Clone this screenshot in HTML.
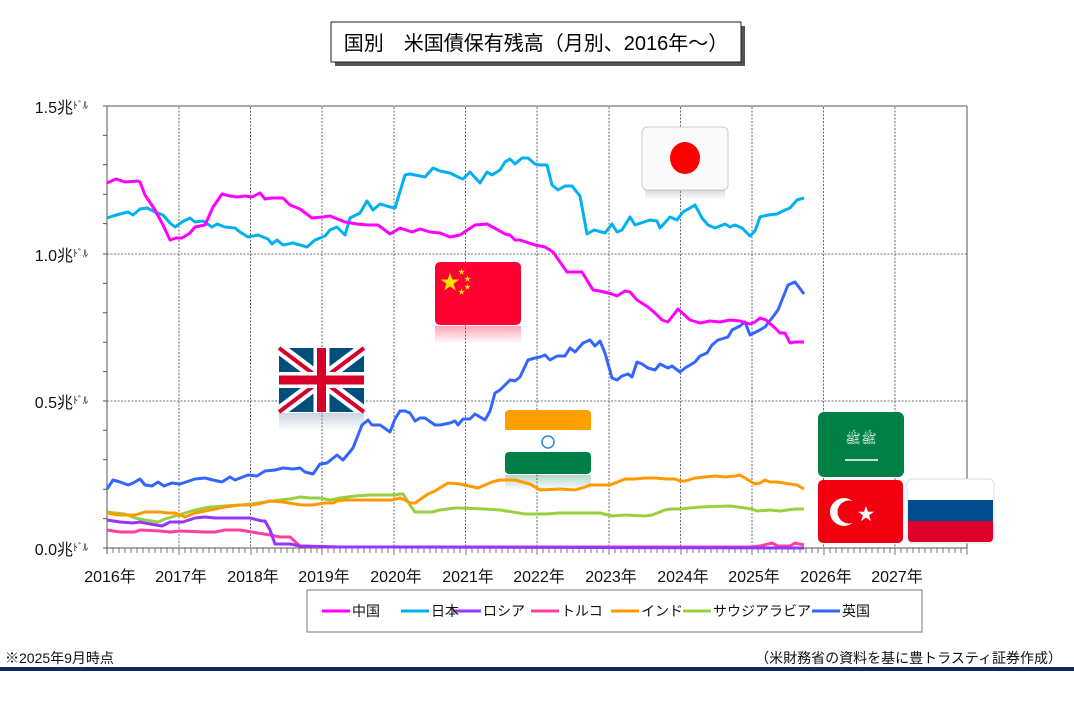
<!DOCTYPE html>
<html><head><meta charset="utf-8"><style>
body{margin:0;background:#fff;}
svg text{font-family:"Liberation Sans","Noto Sans CJK JP",sans-serif;}
</style></head><body>
<svg width="1074" height="707" viewBox="0 0 1074 707" xmlns="http://www.w3.org/2000/svg">
<defs>
<linearGradient id="fadeR" x1="0" y1="0" x2="0" y2="1"><stop offset="0" stop-color="#ff0033" stop-opacity="0.35"/><stop offset="1" stop-color="#ff0033" stop-opacity="0"/></linearGradient>
<linearGradient id="fadeB" x1="0" y1="0" x2="0" y2="1"><stop offset="0" stop-color="#6688aa" stop-opacity="0.35"/><stop offset="1" stop-color="#6688aa" stop-opacity="0"/></linearGradient>
<linearGradient id="fadeG" x1="0" y1="0" x2="0" y2="1"><stop offset="0" stop-color="#008048" stop-opacity="0.3"/><stop offset="1" stop-color="#008048" stop-opacity="0"/></linearGradient>
<linearGradient id="fadeK" x1="0" y1="0" x2="0" y2="1"><stop offset="0" stop-color="#999" stop-opacity="0.35"/><stop offset="1" stop-color="#999" stop-opacity="0"/></linearGradient>
</defs>
<!-- title -->
<rect x="335" y="26" width="410" height="40" fill="#555"/>
<rect x="331" y="22" width="410" height="40" fill="#fff" stroke="#222" stroke-width="1"/>
<text x="536" y="50" font-size="20" text-anchor="middle" fill="#000">国別　米国債保有残高（月別、2016年～）</text>
<!-- grid -->
<g stroke="#444" stroke-width="0.8" stroke-dasharray="2,1.5">
<line x1="107" y1="254" x2="967" y2="254"/><line x1="107" y1="401" x2="967" y2="401"/>
<line x1="179" y1="107" x2="179" y2="548"/><line x1="250.5" y1="107" x2="250.5" y2="548"/><line x1="322" y1="107" x2="322" y2="548"/><line x1="394" y1="107" x2="394" y2="548"/><line x1="465.5" y1="107" x2="465.5" y2="548"/><line x1="537" y1="107" x2="537" y2="548"/><line x1="609" y1="107" x2="609" y2="548"/><line x1="680.5" y1="107" x2="680.5" y2="548"/><line x1="752" y1="107" x2="752" y2="548"/><line x1="823.5" y1="107" x2="823.5" y2="548"/><line x1="895" y1="107" x2="895" y2="548"/>
</g>
<g stroke="#555" stroke-width="1" fill="none">
<line x1="107" y1="106" x2="967" y2="106"/><line x1="967" y1="106" x2="967" y2="548"/>
<line x1="107" y1="106" x2="107" y2="554"/><line x1="107" y1="548" x2="967" y2="548"/>
<path d="M103 135.4h4M103 164.8h4M103 194.2h4M103 223.6h4M103 283.4h4M103 312.8h4M103 342.2h4M103 371.6h4M103 430.4h4M103 459.8h4M103 489.2h4M103 518.6h4M103 106h4M103 254h4M103 401h4M103 548h4"/>
</g>
<path stroke="#555" stroke-width="0.8" d="M113 548v5M119 548v5M125 548v5M131 548v5M137 548v5M143 548v5M149 548v5M155 548v5M161 548v5M167 548v5M173 548v5M179 548v7M185 548v5M191 548v5M197 548v5M203 548v5M209 548v5M215 548v5M221 548v5M227 548v5M233 548v5M239 548v5M245 548v5M251 548v7M257 548v5M263 548v5M269 548v5M275 548v5M281 548v5M287 548v5M293 548v5M299 548v5M305 548v5M311 548v5M317 548v5M322 548v7M328 548v5M334 548v5M340 548v5M346 548v5M352 548v5M358 548v5M364 548v5M370 548v5M376 548v5M382 548v5M388 548v5M394 548v7M400 548v5M406 548v5M412 548v5M418 548v5M424 548v5M430 548v5M436 548v5M442 548v5M448 548v5M454 548v5M460 548v5M466 548v7M472 548v5M478 548v5M484 548v5M490 548v5M496 548v5M502 548v5M508 548v5M514 548v5M520 548v5M526 548v5M532 548v5M537 548v7M543 548v5M549 548v5M555 548v5M561 548v5M567 548v5M573 548v5M579 548v5M585 548v5M591 548v5M597 548v5M603 548v5M609 548v7M615 548v5M621 548v5M627 548v5M633 548v5M639 548v5M645 548v5M651 548v5M657 548v5M663 548v5M669 548v5M675 548v5M681 548v7M687 548v5M693 548v5M699 548v5M705 548v5M711 548v5M717 548v5M723 548v5M729 548v5M735 548v5M741 548v5M747 548v5M752 548v7M758 548v5M764 548v5M770 548v5M776 548v5M782 548v5M788 548v5M794 548v5M800 548v5M806 548v5M812 548v5M818 548v5M824 548v7M830 548v5M836 548v5M842 548v5M848 548v5M854 548v5M860 548v5M866 548v5M872 548v5M878 548v5M884 548v5M890 548v5M895 548v7M901 548v5M907 548v5M913 548v5M919 548v5M925 548v5M931 548v5M937 548v5M943 548v5M949 548v5M955 548v5M961 548v5M967 548v7"/>
<!-- y labels -->
<g font-size="16" fill="#111" text-anchor="end">
<text x="88" y="113">1.5兆<tspan font-size="10" dy="-4">ﾄﾞﾙ</tspan></text>
<text x="88" y="261">1.0兆<tspan font-size="10" dy="-4">ﾄﾞﾙ</tspan></text>
<text x="88" y="408">0.5兆<tspan font-size="10" dy="-4">ﾄﾞﾙ</tspan></text>
<text x="88" y="555">0.0兆<tspan font-size="10" dy="-4">ﾄﾞﾙ</tspan></text>
</g>
<g font-size="16" fill="#111" text-anchor="middle">
<text x="110" y="582">2016年</text><text x="181" y="582">2017年</text><text x="253" y="582">2018年</text><text x="324" y="582">2019年</text><text x="396" y="582">2020年</text><text x="468" y="582">2021年</text><text x="539" y="582">2022年</text><text x="611" y="582">2023年</text><text x="683" y="582">2024年</text><text x="754" y="582">2025年</text><text x="826" y="582">2026年</text><text x="897" y="582">2027年</text>
</g>
<!-- flags -->
<g>
<rect x="642" y="127" width="86" height="63" rx="5" fill="#fafafa" stroke="#ccc"/>
<rect x="645" y="190" width="80" height="10" fill="url(#fadeK)"/>
<ellipse cx="685" cy="158" rx="15" ry="16" fill="#f00"/>
<rect x="435" y="262" width="86" height="63" rx="5" fill="#ff0033"/>
<rect x="435" y="326" width="86" height="18" fill="url(#fadeR)"/>
<text x="440" y="289" font-size="20" fill="#ffe000">★</text>
<text x="458" y="274" font-size="7" fill="#ffe000">★</text><text x="464" y="281" font-size="7" fill="#ffe000">★</text><text x="464" y="289" font-size="7" fill="#ffe000">★</text><text x="458" y="294" font-size="7" fill="#ffe000">★</text>
<rect x="279" y="348" width="85" height="64" fill="#004e7c"/>
<path d="M279 348L364 412M364 348L279 412" stroke="#fff" stroke-width="12"/>
<path d="M279 348L364 412M364 348L279 412" stroke="#d6002a" stroke-width="4"/>
<path d="M321.5 348V412M279 380H364" stroke="#fff" stroke-width="16"/>
<path d="M321.5 348V412M279 380H364" stroke="#d6002a" stroke-width="9"/>
<rect x="279" y="413" width="85" height="18" fill="url(#fadeB)"/>
<rect x="505" y="410" width="86" height="22" rx="4" fill="#ffa000"/>
<rect x="505" y="430" width="86" height="22" fill="#fff"/>
<rect x="505" y="452" width="86" height="22" rx="4" fill="#008048"/>
<rect x="505" y="475" width="86" height="16" fill="url(#fadeG)"/>
<circle cx="548" cy="442" r="6" fill="none" stroke="#3388cc" stroke-width="1.5"/>
<rect x="818" y="412" width="86" height="65" rx="6" fill="#008044"/>
<text x="861" y="443" font-size="13" fill="#fff" text-anchor="middle">ﷺﷺ</text>
<path d="M845 460H878" stroke="#fff" stroke-width="1.5"/>
<rect x="818" y="480" width="85" height="63" rx="5" fill="#f20010"/>
<circle cx="844" cy="512" r="14" fill="#fff"/><circle cx="849" cy="512" r="11.5" fill="#f20010"/>
<text x="866" y="520" font-size="17" fill="#fff" text-anchor="middle">★</text>
<rect x="907" y="479" width="87" height="64" rx="5" fill="#fff" stroke="#ddd"/>
<rect x="908" y="500" width="85" height="21" fill="#004c8c"/>
<path d="M908 521h85v17a4 4 0 0 1-4 4h-77a4 4 0 0 1-4-4z" fill="#dc002a"/>
</g>
<!-- series -->
<g fill="none" stroke-width="3" stroke-linejoin="round">
<polyline stroke="#ff40a0" points="107,530 120,532 135,532 140,530 160,531 170,532 180,531 205,532 215,532 225,530 240,530 252,532 270,535 280,537 290,537 300,546 330,547 750,547 760,546 772,543 778,546 790,546 795,543 804,545"/>
<polyline stroke="#9933ff" points="107,520 120,522 133,523 140,522 150,524 162,526 170,522 183,522 195,518 205,517 215,518 250,518 262,521 265,521 270,530 275,544 290,544 300,546 340,547 390,547 804,548"/>
<polyline stroke="#99d040" points="107,512 115,513 125,514 135,518 145,520 158,522 165,519 175,516 185,513 195,510 210,507 225,506 240,505 252,504 265,502 280,500 290,499 300,497 310,498 320,498 330,500 340,498 355,496 370,495 385,495 395,495 400,494 403,494 410,505 415,512 432,512 440,510 455,508 460,508 485,509 500,510 525,514 545,514 560,513 575,513 600,513 612,516 625,515 645,516 652,515 665,510 670,509 680,509 700,507 730,506 745,508 752,509 757,511 770,510 780,511 795,509 804,509"/>
<polyline stroke="#ff9900" points="107,513 118,515 128,515 135,515 145,512 160,512 168,513 175,513 185,517 195,513 210,510 225,507 240,505 252,505 262,503 270,501 283,502 295,504 302,505 312,505 325,503 333,503 337,501 345,500 355,500 365,500 375,500 385,500 392,500 400,498 405,500 410,503 415,503 428,494 435,491 448,483 460,484 478,488 492,482 500,480 515,480 530,484 540,490 560,489 575,490 585,487 590,485 600,485 610,485 625,479 635,479 645,478 655,478 667,479 675,479 680,481 685,481 695,478 705,477 715,476 725,477 735,476 740,475 750,481 755,484 760,483 765,480 770,482 777,482 790,484 797,485 804,489"/>
<polyline stroke="#3366ff" points="107,489 113,480 120,482 128,485 133,483 140,479 145,485 152,486 158,482 164,486 172,483 180,484 186,482 195,479 205,478 213,480 222,482 230,477 235,480 248,475 257,476 265,471 275,470 283,468 293,469 300,468 305,472 313,474 320,464 327,463 337,455 343,460 353,448 362,425 368,420 372,425 380,425 390,432 395,419 400,411 405,411 410,413 415,421 420,418 425,418 435,425 440,425 450,423 455,421 458,425 463,419 470,419 475,414 485,420 490,411 495,393 500,390 510,380 515,381 520,377 528,360 535,358 540,357 545,355 550,360 557,356 565,356 570,348 575,352 583,343 590,340 595,346 600,341 605,353 612,378 617,380 622,376 628,374 632,377 637,362 642,364 648,368 655,370 660,364 668,368 672,366 680,372 685,368 695,362 700,356 707,353 712,345 718,340 728,337 732,330 740,326 745,322 750,335 758,331 765,327 772,318 778,310 788,285 795,282 804,294"/>
<polyline stroke="#00b0f0" points="107,218 113,216 120,214 128,212 133,215 140,209 147,208 155,212 163,215 170,223 175,227 182,222 190,218 195,222 203,221 212,227 217,224 225,227 235,228 240,232 248,237 258,235 268,239 272,244 277,240 283,245 293,243 300,245 307,247 315,240 325,236 330,230 337,227 345,235 350,218 360,213 367,201 373,210 380,204 390,207 395,208 405,175 410,174 420,176 425,177 433,168 440,171 450,173 460,178 463,179 470,172 480,183 487,172 492,175 500,170 505,162 510,159 515,164 522,158 528,158 535,164 540,165 547,165 552,185 558,190 565,186 572,186 580,196 587,234 594,230 598,231 605,233 612,224 617,232 622,230 630,217 635,225 650,220 657,221 660,228 670,217 677,220 683,212 690,208 695,205 702,218 708,225 715,228 725,224 730,227 735,225 742,228 750,236 755,231 760,217 768,215 777,214 785,210 790,208 797,200 804,198"/>
<polyline stroke="#ff00ff" points="107,183 116,179 125,182 138,181 140,182 145,195 155,210 163,225 170,240 176,238 182,238 190,233 195,227 205,225 213,207 222,194 230,196 237,197 245,196 252,197 260,193 265,199 272,198 283,198 290,205 300,209 312,218 322,217 330,216 345,222 357,224 368,225 378,225 390,234 400,228 412,232 420,229 430,232 440,233 450,237 460,235 475,225 487,224 498,230 505,234 510,235 515,240 520,240 535,245 545,247 553,252 567,272 575,272 582,272 593,290 600,291 612,294 617,296 625,291 630,292 637,300 648,307 655,313 662,320 668,322 678,309 690,320 700,323 710,321 720,322 730,320 740,321 750,324 755,322 760,318 766,320 775,328 780,333 785,333 790,343 795,342 804,342"/>
</g>
<!-- legend -->
<rect x="307" y="590" width="615" height="42" fill="#fff" stroke="#777"/>
<g stroke-width="3">
<line x1="322" y1="611" x2="350" y2="611" stroke="#ff00ff"/>
<line x1="401" y1="611" x2="429" y2="611" stroke="#00b0f0"/>
<line x1="453" y1="611" x2="481" y2="611" stroke="#9933ff"/>
<line x1="531" y1="611" x2="559" y2="611" stroke="#ff40a0"/>
<line x1="611" y1="611" x2="639" y2="611" stroke="#ff9900"/>
<line x1="683" y1="611" x2="711" y2="611" stroke="#99d040"/>
<line x1="812" y1="611" x2="840" y2="611" stroke="#3366ff"/>
</g>
<g font-size="14" fill="#111">
<text x="352" y="616">中国</text><text x="431" y="616">日本</text><text x="483" y="616">ロシア</text><text x="561" y="616">トルコ</text><text x="641" y="616">インド</text><text x="713" y="616">サウジアラビア</text><text x="842" y="616">英国</text>
</g>
<text x="5" y="663" font-size="14" fill="#111">※2025年9月時点</text>
<text x="1062" y="663" font-size="14" fill="#111" text-anchor="end">（米財務省の資料を基に豊トラスティ証券作成）</text>
<rect x="0" y="667" width="1074" height="4" fill="#0b2a6b"/>
</svg>
</body></html>
